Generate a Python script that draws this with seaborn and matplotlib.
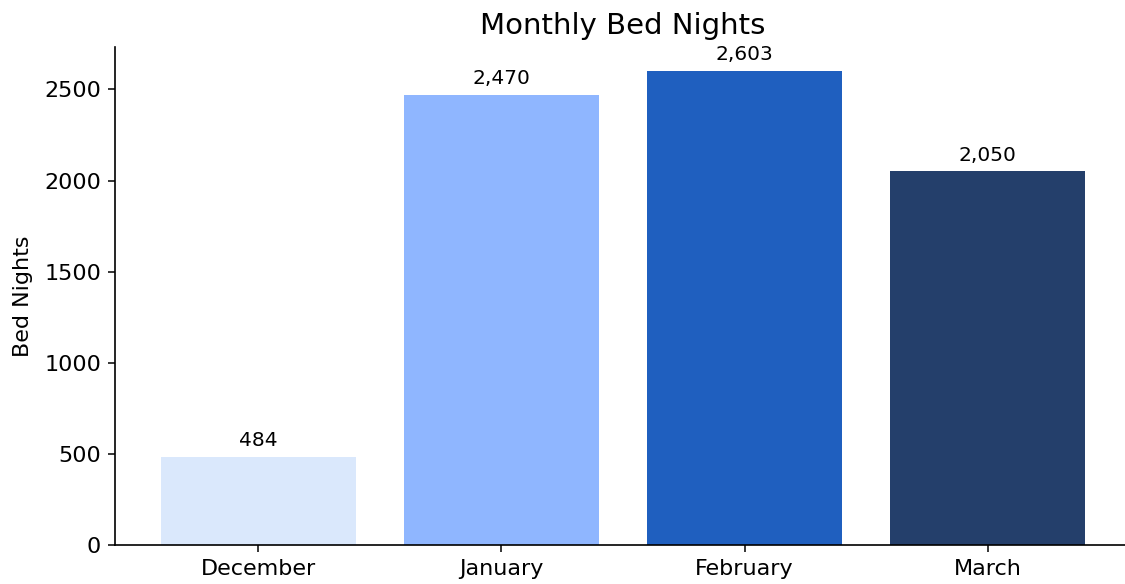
import pandas as pd
import seaborn as sns
import matplotlib.pyplot as plt

# Data
months = ['December', 'January', 'February', 'March']
bed_nights = [484, 2470, 2603, 2050]
bar_colors = ['#dae8fc', '#8fb6ff', '#1f5fbf', '#243f6b']

df = pd.DataFrame({'month': months, 'bed_nights': bed_nights})

fig, ax = plt.subplots(figsize=(11.25, 5.84), dpi=100)

sns.barplot(data=df, x='month', y='bed_nights', hue='month', palette=bar_colors,
            saturation=1, width=0.8, linewidth=0, legend=False, ax=ax)

# Value labels above bars
for container in ax.containers:
    ax.bar_label(container, labels=[f'{v:,.0f}' for v in container.datavalues],
                 padding=5, fontsize=14.5)

ax.set_xlim(-0.59, 3.59)
ax.set_title('Monthly Bed Nights', fontsize=21, pad=9.5)
ax.set_xlabel('')
ax.set_ylabel('Bed Nights', fontsize=16, labelpad=8)
ax.tick_params(axis='both', labelsize=16, length=5, width=1.1, pad=5)
ax.spines[['top', 'right']].set_visible(False)
ax.spines[['left', 'bottom']].set_linewidth(1.2)

# axes runs slightly past the right edge of the figure, as in the original
ax.set_position([115/1125, 39/584, 1016/1125, 498/584])
fig.savefig('out.png')
